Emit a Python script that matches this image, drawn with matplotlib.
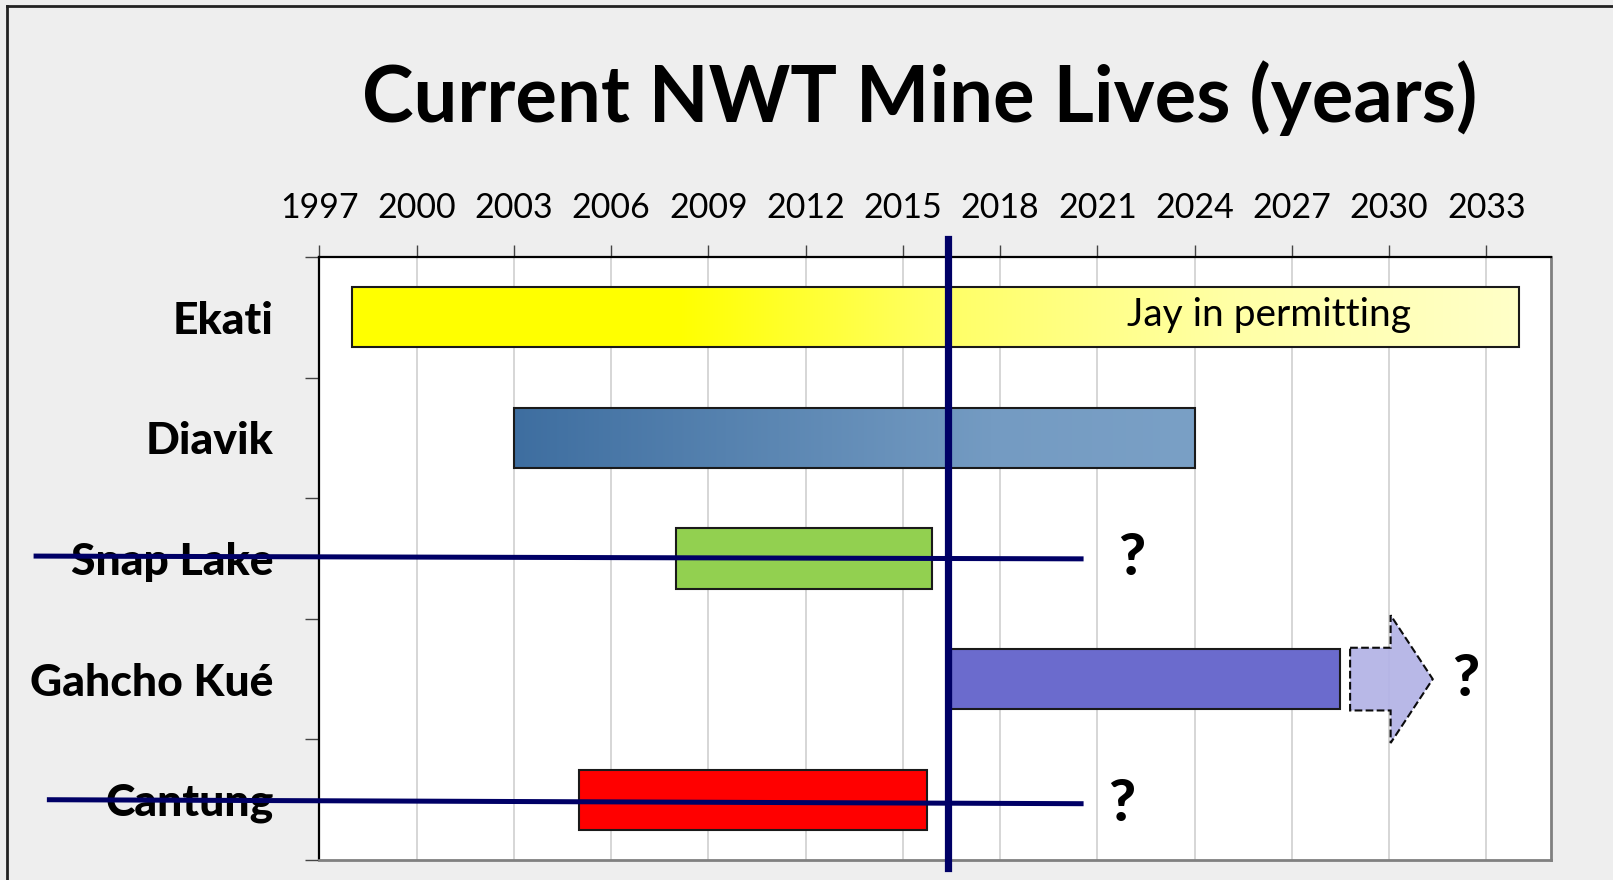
import matplotlib.pyplot as plt
import numpy as np
from matplotlib.patches import Polygon
from matplotlib.lines import Line2D

plt.rcParams['font.family'] = ['Lato', 'DejaVu Sans']

mines = ['Ekati', 'Diavik', 'Snap Lake', 'Gahcho Kué', 'Cantung']
start = [1998, 2003, 2008, 2016.5, 2005]
end = [2034, 2024, 2015.9, 2028.5, 2015.75]
colors = ['#FFFF00', '#4170A0', '#92D050', '#6B6BCD', '#FF0000']
years = [1997, 2000, 2003, 2006, 2009, 2012, 2015, 2018, 2021, 2024, 2027, 2030, 2033]

today = 2016.4
closed = ['Snap Lake', 'Cantung']
strike_from = [1988.26, 1988.67]
strike_to = [2020.5, 2020.5]
strike_dy = [(-0.02, 0.003), (0.0, 0.033)]

# possible extension for Gahcho Kue
ext_start, ext_neck, ext_tip = 2028.8, 2030.05, 2031.35

q_x = [2022.05, 2032.37, 2021.74]
q_y = [2, 3, 4.04]

fig = plt.figure(figsize=(16.13, 8.8), dpi=100)
fig.patch.set_facecolor('#EEEEEE')
ax = fig.add_axes([0.198, 0.0227, 0.7636, 0.6853])
ax.set_facecolor('white')

h = 0.5
ypos = np.arange(len(mines))
bars = ax.barh(ypos, np.array(end) - np.array(start), left=start, height=h,
               color=colors, edgecolor='#1A1A1A', linewidth=1.5, zorder=3)

# gradients for Ekati and Diavik
def gradient(bar, stops, cols):
    n = 400
    t = np.linspace(0, 1, n)
    rgb = np.stack([np.interp(t, stops, [c[k] for c in cols]) for k in range(3)], axis=-1) / 255
    x0, y0 = bar.get_x(), bar.get_y()
    im = ax.imshow(rgb[None, :, :], extent=(x0, x0 + bar.get_width(), y0 + bar.get_height(), y0),
                   aspect='auto', zorder=2.5, interpolation='bilinear')
    im.set_clip_path(bar)
    bar.set_facecolor('none')

gradient(bars[0], [0, 0.28, 0.5, 0.75, 1],
         [(255, 255, 0), (255, 255, 0), (255, 255, 100), (255, 255, 165), (255, 255, 200)])
gradient(bars[1], [0, 0.7, 1], [(62, 110, 160), (116, 155, 194), (122, 160, 198)])

ax.text(2026.29, -0.02, 'Jay in permitting', ha='center', va='center', fontsize=28, zorder=5)

arrow = Polygon([(ext_start, 3 - 0.26), (ext_neck, 3 - 0.26), (ext_neck, 3 - 0.53),
                 (ext_tip, 3), (ext_neck, 3 + 0.53), (ext_neck, 3 + 0.26),
                 (ext_start, 3 + 0.26)], closed=True, facecolor='#B4B4E6', alpha=0.95,
                edgecolor='black', linestyle='--', linewidth=1.5, zorder=3, clip_on=False)
ax.add_patch(arrow)

ax.add_line(Line2D([today, today], [-0.653, 4.564], color='#000066', linewidth=5.2,
                   zorder=6, clip_on=False))

for name, x0, x1, dy in zip(closed, strike_from, strike_to, strike_dy):
    y = mines.index(name)
    ax.add_line(Line2D([x0, x1], [y + dy[0], y + dy[1]], color='#000066', linewidth=3.6,
                       zorder=7, clip_on=False))

for x, y in zip(q_x, q_y):
    ax.text(x, y, '?', ha='center', va='center', fontsize=42, fontweight='black', zorder=5)

ax.set_xlim(1997, 2035)
ax.set_ylim(4.5, -0.5)

ax.xaxis.tick_top()
ax.set_xticks(years)
ax.set_xticklabels([str(y) for y in years])
ax.tick_params(axis='x', direction='out', length=8.6, width=1, color='#444444',
               labelsize=24.5, pad=15)
ax.grid(axis='x', color='#D0D0D0', linewidth=1.2, zorder=0)
ax.set_axisbelow(True)

ax.set_yticks(np.arange(-0.5, len(mines), 1))
ax.set_yticklabels([])
ax.set_yticks(ypos, minor=True)
ax.set_yticklabels(mines, minor=True, fontsize=32, fontweight='black')
ax.tick_params(axis='y', which='major', direction='out', length=10, width=1, color='#444444')
ax.tick_params(axis='y', which='minor', length=0, pad=33)

for s in ['top', 'left']:
    ax.spines[s].set_color('black')
    ax.spines[s].set_linewidth(1.6)
for s in ['right', 'bottom']:
    ax.spines[s].set_color('#808080')
    ax.spines[s].set_linewidth(2)

fig.text(0.570, 0.889, 'Current NWT Mine Lives (years)', ha='center', va='center',
         fontsize=56, fontweight='bold')

fig.add_artist(Line2D([0.0045, 0.0045], [0, 0.9932], color='#222222', linewidth=2,
                      transform=fig.transFigure))
fig.add_artist(Line2D([0.0045, 1], [0.9932, 0.9932], color='#222222', linewidth=2,
                      transform=fig.transFigure))

plt.savefig('out.png', dpi=100, facecolor=fig.get_facecolor())
